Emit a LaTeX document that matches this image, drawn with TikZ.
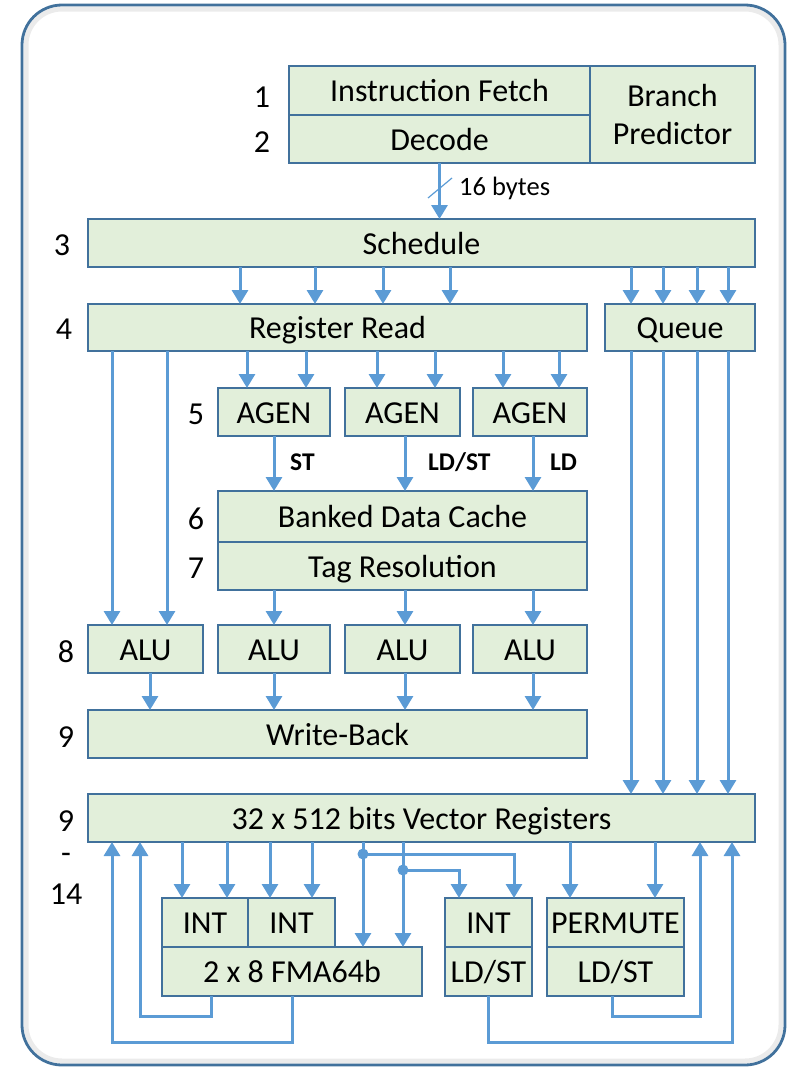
\documentclass[tikz,border=0pt]{standalone}
\usepackage{fontspec}
\setmainfont{Carlito}
\usetikzlibrary{arrows.meta}
\definecolor{boxfill}{HTML}{E2EFDA}
\definecolor{boxline}{HTML}{41719C}
\definecolor{wire}{HTML}{5B9BD5}
% one block: name, left, top, right, bottom, text
\newcommand\mkbox[6]{\node[box, minimum width={(#4)-(#2)}, minimum height={(#5)-(#3)}] (#1) at (#2,#3) {#6};}
\begin{document}
\begin{tikzpicture}[x=1pt,y=-1pt,
  cell/.style={draw=boxline, fill=boxfill, line width=1.3pt, inner sep=0pt, outer sep=0pt,
    anchor=north west, align=center, font=\fontsize{32}{38}\selectfont, text=black},
  box/.style={cell, text height=24pt, text depth=2pt},
  stage/.style={font=\fontsize{32}{36}\selectfont, text=black, inner sep=0pt},
  tag/.style={font=\fontsize{25.5}{28}\selectfont\bfseries, text=black, inner sep=0pt, anchor=west},
  arr/.style={draw=wire, line width=3pt, -{Triangle[width=16pt,length=14pt]}},
  dot/.style={fill=wire}]
\useasboundingbox (0,0) rectangle (792,1068);

% frame with a faint inner shade
\draw[black!8, line width=5pt, rounded corners=36pt] (26,9) rectangle (781,1061);
\draw[boxline, line width=2.8pt, rounded corners=40pt] (22,5) rectangle (785,1065);

% blocks
\mkbox{fetch}{289}{66}{590}{115}{Instruction Fetch}
\mkbox{decode}{289}{115}{590}{163}{Decode}
\node[cell, minimum width=165, minimum height=97] (bp) at (590,66) {Branch\\Predictor};
\mkbox{sched}{88}{219}{755}{267}{Schedule}
\mkbox{regread}{88}{304}{587}{351}{Register Read}
\mkbox{queue}{605}{304}{755}{351}{Queue}
\mkbox{agena}{218}{388}{330}{436}{AGEN}
\mkbox{agenb}{345}{388}{460}{436}{AGEN}
\mkbox{agenc}{473}{388}{587}{436}{AGEN}
\mkbox{cache}{218}{491}{587}{542}{Banked Data Cache}
\mkbox{tagres}{218}{542}{587}{590}{Tag Resolution}
\mkbox{alua}{88}{625}{203}{673}{ALU}
\mkbox{alub}{218}{625}{330}{673}{ALU}
\mkbox{aluc}{345}{625}{460}{673}{ALU}
\mkbox{alud}{473}{625}{587}{673}{ALU}
\mkbox{wb}{88}{710}{587}{758}{Write-Back}
\mkbox{vreg}{88}{794}{755}{842}{32 x 512 bits Vector Registers}
\mkbox{inta}{162}{898}{248}{947}{INT}
\mkbox{intb}{248}{898}{335}{947}{INT}
\mkbox{fma}{162}{947}{422}{996}{2 x 8 FMA64b}
\mkbox{intc}{445}{898}{532}{947}{INT}
\mkbox{ldsta}{445}{947}{532}{996}{LD/ST}
\mkbox{perm}{547}{898}{684}{947}{PERMUTE}
\mkbox{ldstb}{547}{947}{684}{996}{LD/ST}

% pipeline stage numbers
\node[stage] (s1) at (262,97) {1};
\node[stage] (s2) at (262,142) {2};
\node[stage] (s3) at (62,245) {3};
\node[stage] (s4) at (64,329) {4};
\node[stage] (s5) at (196,414) {5};
\node[stage] (s6) at (196,519) {6};
\node[stage] (s7) at (196,568) {7};
\node[stage] (s8) at (66,652) {8};
\node[stage] (s9) at (66,737) {9};
\node[stage] (s9b) at (66,821) {9};
\node[stage] (sdash) at (66,858) {-};
\node[stage] (s14) at (66,894) {14};

% fetch/decode to schedule, 16 bytes wide
\draw[arr] (decode.south) -- (decode.south |- sched.north);
\draw[wire, line width=1.2pt] (428,198) -- (452,178);
\node[anchor=west, font=\fontsize{26.5}{30}\selectfont, inner sep=0pt] (bytes) at (459,188) {16 bytes};

% schedule outputs
\foreach \x in {240,315,383,450} \draw[arr] (\x,0 |- sched.south) -- (\x,0 |- regread.north);
\foreach \x in {631,663,697,728} {
  \draw[arr] (\x,0 |- sched.south) -- (\x,0 |- queue.north);
  \draw[arr] (\x,0 |- queue.south) -- (\x,0 |- vreg.north);
}

% register read fan-out
\foreach \x in {112,167} \draw[arr] (\x,0 |- regread.south) -- (\x,0 |- alua.north);
\foreach \x in {247,306} \draw[arr] (\x,0 |- regread.south) -- (\x,0 |- agena.north);
\foreach \x in {377,435} \draw[arr] (\x,0 |- regread.south) -- (\x,0 |- agenb.north);
\foreach \x in {503,559} \draw[arr] (\x,0 |- regread.south) -- (\x,0 |- agenc.north);

% address generation into the cache
\draw[arr] (274,0 |- agena.south) -- (274,0 |- cache.north);
\draw[arr] (405,0 |- agenb.south) -- (405,0 |- cache.north);
\draw[arr] (533,0 |- agenc.south) -- (533,0 |- cache.north);
\node[tag] (lst) at (290,462) {ST};
\node[tag] (lldst) at (428,462) {LD/ST};
\node[tag] (lld) at (550,462) {LD};

% tag resolution to ALUs, ALUs to write-back
\draw[arr] (274,0 |- tagres.south) -- (274,0 |- alub.north);
\draw[arr] (405,0 |- tagres.south) -- (405,0 |- aluc.north);
\draw[arr] (533,0 |- tagres.south) -- (533,0 |- alud.north);
\draw[arr] (150,0 |- alua.south) -- (150,0 |- wb.north);
\draw[arr] (274,0 |- alub.south) -- (274,0 |- wb.north);
\draw[arr] (405,0 |- aluc.south) -- (405,0 |- wb.north);
\draw[arr] (533,0 |- alud.south) -- (533,0 |- wb.north);

% vector register reads
\foreach \x in {182,227} \draw[arr] (\x,0 |- vreg.south) -- (\x,0 |- inta.north);
\foreach \x in {270,312} \draw[arr] (\x,0 |- vreg.south) -- (\x,0 |- intb.north);
\foreach \x in {570,655} \draw[arr] (\x,0 |- vreg.south) -- (\x,0 |- perm.north);
\coordinate (ja) at (363,854);
\coordinate (jb) at (403,870);
\draw[arr] (363,0 |- vreg.south) -- (363,0 |- fma.north);
\draw[arr] (403,0 |- vreg.south) -- (403,0 |- fma.north);
\draw[arr] (ja) -| (514,0 |- intc.north);
\draw[arr] (jb) -| (459,0 |- intc.north);
\fill[dot] (ja) circle (5.5);
\fill[dot] (jb) circle (5.5);

% results written back to the vector registers
\draw[arr] (211,0 |- fma.south) |- (140,1016) -- (140,0 |- vreg.south);
\draw[arr] (292,0 |- fma.south) |- (112,1042) -- (112,0 |- vreg.south);
\draw[arr] (612,0 |- ldstb.south) |- (700,1016) -- (700,0 |- vreg.south);
\draw[arr] (488,0 |- ldsta.south) |- (732,1042) -- (732,0 |- vreg.south);
\end{tikzpicture}
\end{document}
